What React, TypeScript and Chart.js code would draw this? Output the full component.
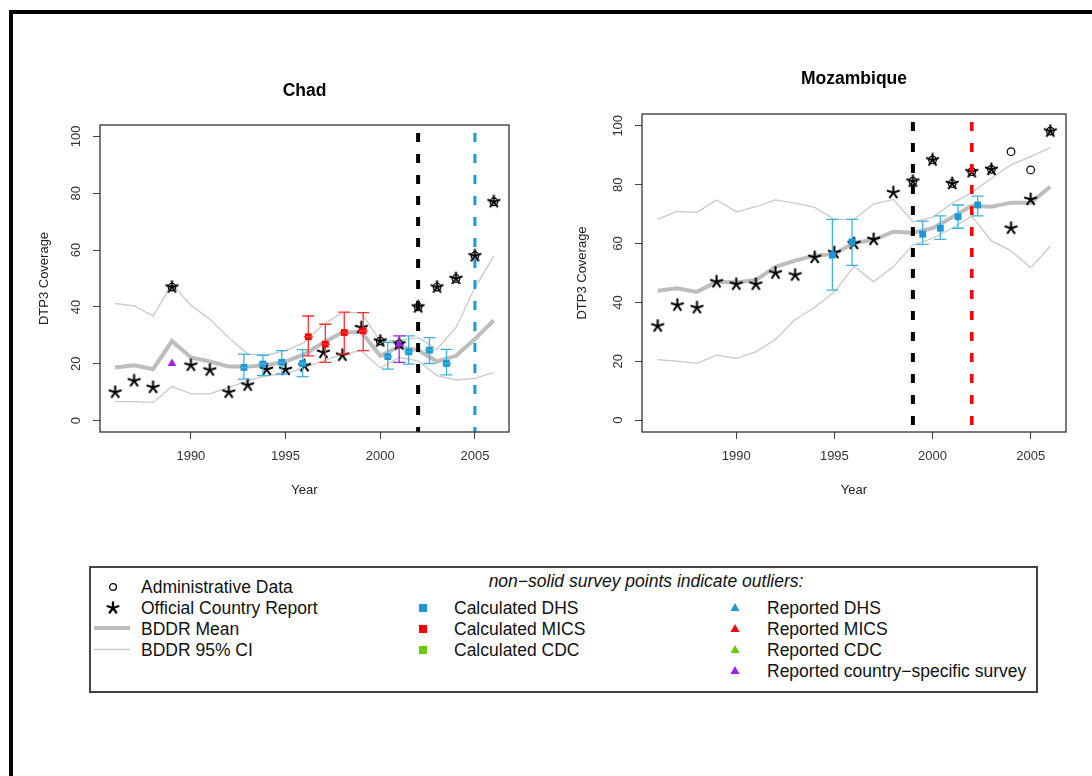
import React, { useEffect, useRef } from 'react';
import { Chart, registerables } from 'chart.js';
Chart.register(...registerables);

// ---------- data ----------
const years = [1986, 1987, 1988, 1989, 1990, 1991, 1992, 1993, 1994, 1995, 1996, 1997, 1998, 1999, 2000, 2001, 2002, 2003, 2004, 2005, 2006];
const xTickValues = [1990, 1995, 2000, 2005];
const yTickValues = [0, 20, 40, 60, 80, 100];

// Chad
const chadOfficial = [10, 14, 11.7, 47, 19.5, 17.8, 10, 12.5, 18, 18, 19.3, 24, 23, 32.7, 28, 27, 40, 47, 50, 58, 77];
const chadAdminYears = [1989, 2000, 2001, 2002, 2003, 2004, 2005, 2006];
const chadAdmin = [47, 28, 27, 40, 47, 50, 58, 77];
const chadMean = [18.7, 19.5, 18.1, 28, 22.2, 20.8, 19, 19, 19.5, 20.8, 23.4, 27.5, 31, 31.2, 22.8, 26, 24.8, 20.8, 22.8, 28.7, 35.3];
const chadUpper = [41.2, 40.4, 36.8, 48, 40.6, 35.7, 29.2, 23.4, 23, 24.6, 27.5, 33.9, 38, 38, 28, 28.2, 29.2, 25.1, 32.7, 46.8, 57.9];
const chadLower = [6.7, 6.7, 6.4, 12, 9.4, 9.4, 11.7, 14, 15.8, 16.4, 18.7, 21, 23.4, 24.6, 18.5, 22.2, 21, 15.8, 14.3, 14.9, 17];
const chadDhsYears = [1992.8, 1993.8, 1994.8, 1995.9, 2000.4, 2001.5, 2002.6, 2003.5];
const chadDhs = [18.7, 19.9, 20.5, 20.1, 22.5, 24.2, 24.8, 20.1];
const chadDhsHigh = [23.4, 23, 24.6, 25, 27.5, 29.8, 29.2, 25.1];
const chadDhsLow = [14.6, 15.8, 16.4, 15.5, 18.1, 19.9, 20.1, 16.1];
const chadMicsYears = [1996.2, 1997.1, 1998.1, 1999.1];
const chadMics = [29.5, 26.9, 31, 31.6];
const chadMicsHigh = [36.8, 33.9, 38.2, 38];
const chadMicsLow = [22.8, 20.5, 23.4, 24.6];
const chadCountryYears = [1989, 2001];
const chadCountry = [20.1, 26.9];
const chadCountryHigh = [20.1, 29.8];
const chadCountryLow = [20.1, 20.5];
const chadVlineYears = [2002, 2005];
const chadVlineColors = ['#000000', '#1a9ad6'];
const chadVlineWidths = [4, 3];

// Mozambique
const mozOfficial = [32, 39.1, 38.2, 47, 46.2, 46.2, 50, 49.3, 55.3, 56.9, 60, 61.4, 77.3, 81.2, 88.4, 80.4, 84.4, 85.2, 65.2, 75, 98.2];
const mozAdminYears = [1999, 2000, 2001, 2002, 2003, 2004, 2005, 2006];
const mozAdmin = [81.2, 88.4, 80.4, 84.4, 85.2, 91.2, 85, 98.2];
const mozMean = [44, 44.8, 43.6, 47, 46.8, 47.6, 52.1, 54.2, 55.9, 56.4, 60.3, 61.2, 64, 63.7, 65.2, 68.9, 72.8, 72.5, 73.9, 73.9, 79.3];
const mozUpper = [68.3, 70.9, 70.6, 74.8, 70.8, 72.5, 74.8, 73.7, 72.3, 68.2, 68.2, 73.4, 75, 67.4, 68.9, 73.7, 77.3, 82.2, 86.7, 89.5, 92.6];
const mozLower = [20.6, 20.1, 19.3, 22.1, 21, 23.2, 27.4, 34.2, 38.3, 43.6, 52.3, 47, 52.1, 59.5, 61.8, 65.2, 69.3, 60.9, 57.5, 51.8, 59.1];
const mozDhsYears = [1994.9, 1995.9, 1999.5, 2000.4, 2001.3, 2002.3];
const mozDhs = [56.1, 60.6, 63.2, 65.2, 69.1, 73.1];
const mozDhsHigh = [68.2, 68.2, 67.6, 69.4, 73.1, 76.1];
const mozDhsLow = [44.2, 52.6, 59.7, 61.4, 65.2, 69.4];
const mozVlineYears = [1999, 2002];
const mozVlineColors = ['#000000', '#ff0000'];
const mozVlineWidths = [4, 3.5];

// ---------- styles ----------
const FONT = "'Liberation Sans', Arial, Helvetica, sans-serif";
const DHS_COLOR = '#1a98d5';
const DHS_BAR = '#3db0e2';
const MICS_COLOR = '#ff0000';
const MICS_BAR = '#ff3030';
const CDC_COLOR = '#66cc00';
const PURPLE = '#a020f0';
const MEAN_COLOR = '#bdbdbd';
const CI_COLOR = '#c9c9c9';

function makeStar(): HTMLCanvasElement {
  const size = 15;
  const c = document.createElement('canvas');
  c.width = size;
  c.height = size;
  const g = c.getContext('2d')!;
  g.strokeStyle = '#000';
  g.lineWidth = 2.1;
  g.lineCap = 'round';
  const cx = size / 2, cy = size / 2, r = size / 2 - 1.6;
  for (let k = 0; k < 5; k++) {
    const a = -Math.PI / 2 + (k * 2 * Math.PI) / 5;
    g.beginPath();
    g.moveTo(cx, cy);
    g.lineTo(cx + r * Math.cos(a), cy + r * Math.sin(a));
    g.stroke();
  }
  return c;
}

const errorBarPlugin = {
  id: 'errorBars',
  beforeDatasetDraw(chart: any, args: any) {
    const ds = chart.data.datasets[args.index];
    if (!ds.errorColor) return;
    const { ctx, scales } = chart;
    const x = scales.x, y = scales.y;
    ctx.save();
    ctx.strokeStyle = ds.errorColor;
    ctx.lineWidth = 1.3;
    ds.data.forEach((p: any) => {
      if (p.hi === p.lo) return;
      const px = x.getPixelForValue(p.x);
      const hi = y.getPixelForValue(p.hi);
      const lo = y.getPixelForValue(p.lo);
      ctx.beginPath();
      ctx.moveTo(px, hi);
      ctx.lineTo(px, lo);
      ctx.moveTo(px - 6, hi);
      ctx.lineTo(px + 6, hi);
      ctx.moveTo(px - 6, lo);
      ctx.lineTo(px + 6, lo);
      ctx.stroke();
    });
    ctx.restore();
  },
  afterDatasetDraw(chart: any, args: any) {
    const ds = chart.data.datasets[args.index];
    if (!ds.stripe) return;
    const { ctx, scales } = chart;
    ctx.save();
    ctx.strokeStyle = ds.errorColor;
    ctx.lineWidth = 1.6;
    ds.data.forEach((p: any) => {
      const px = scales.x.getPixelForValue(p.x);
      const py = scales.y.getPixelForValue(p.y);
      ctx.beginPath();
      ctx.moveTo(px - 4.5, py);
      ctx.lineTo(px + 4.5, py);
      ctx.stroke();
    });
    ctx.restore();
  },
};

const vlinePlugin = {
  id: 'vlines',
  afterDatasetsDraw(chart: any, _args: any, opts: any) {
    const { ctx, chartArea, scales } = chart;
    ctx.save();
    ctx.beginPath();
    ctx.rect(chartArea.left, chartArea.top, chartArea.right - chartArea.left, chartArea.bottom - chartArea.top);
    ctx.clip();
    (opts.lines || []).forEach((l: any) => {
      const px = scales.x.getPixelForValue(l.x);
      ctx.strokeStyle = l.color;
      ctx.lineWidth = l.width;
      ctx.setLineDash([9, 12]);
      ctx.lineDashOffset = 13;
      ctx.beginPath();
      ctx.moveTo(px, chartArea.top);
      ctx.lineTo(px, chartArea.bottom);
      ctx.stroke();
    });
    ctx.restore();
  },
};

const boxPlugin = {
  id: 'plotBox',
  afterDraw(chart: any) {
    const { ctx, chartArea } = chart;
    ctx.save();
    ctx.strokeStyle = '#333';
    ctx.lineWidth = 1.3;
    ctx.strokeRect(chartArea.left, chartArea.top, chartArea.right - chartArea.left, chartArea.bottom - chartArea.top);
    ctx.restore();
  },
};

function pts(xs: number[], ys: number[], hi?: number[], lo?: number[]) {
  return xs.map((x, i) => ({ x, y: ys[i], hi: hi ? hi[i] : ys[i], lo: lo ? lo[i] : ys[i] }));
}

function buildConfig(p: any) {
  const star = makeStar();
  const line = (vals: number[], color: string, w: number, order: number) => ({
    type: 'line',
    data: pts(years, vals),
    borderColor: color,
    borderWidth: w,
    pointRadius: 0,
    pointHoverRadius: 0,
    fill: false,
    tension: 0,
    order,
  });
  const datasets: any[] = [
    line(p.upper, CI_COLOR, 1.3, 10),
    line(p.lower, CI_COLOR, 1.3, 10),
    line(p.mean, MEAN_COLOR, 4, 9),
    {
      data: pts(p.adminYears, p.admin),
      pointStyle: 'circle',
      pointRadius: 3.8,
      borderColor: '#000',
      backgroundColor: 'rgba(0,0,0,0)',
      borderWidth: 1.2,
      order: 5,
    },
    { data: pts(years, p.official), pointStyle: star, pointRadius: 6, order: 4 },
    {
      data: pts(p.dhsYears, p.dhs, p.dhsHigh, p.dhsLow),
      pointStyle: 'rect',
      pointRadius: 4.8,
      backgroundColor: DHS_COLOR,
      borderColor: DHS_COLOR,
      borderWidth: 0,
      errorColor: DHS_BAR,
      stripe: p.stripe,
      order: 3,
    },
  ];
  if (p.mics) {
    datasets.push({
      data: pts(p.micsYears, p.mics, p.micsHigh, p.micsLow),
      pointStyle: 'rect',
      pointRadius: 4.8,
      backgroundColor: MICS_COLOR,
      borderColor: MICS_COLOR,
      borderWidth: 0,
      errorColor: MICS_BAR,
      stripe: p.stripe,
      order: 2,
    });
  }
  if (p.country) {
    datasets.push({
      data: pts(p.countryYears, p.country, p.countryHigh, p.countryLow),
      pointStyle: 'triangle',
      pointRadius: 5,
      backgroundColor: PURPLE,
      borderColor: PURPLE,
      borderWidth: 0,
      errorColor: PURPLE,
      order: 1,
    });
  }
  return {
    type: 'scatter',
    data: { datasets },
    plugins: [errorBarPlugin, vlinePlugin, boxPlugin],
    options: {
      animation: false,
      responsive: false,
      events: [],
      layout: { padding: p.layoutPadding },
      plugins: {
        legend: { display: false },
        tooltip: { enabled: false },
        title: {
          display: true,
          text: p.title,
          fullSize: false,
          color: '#000',
          font: { family: FONT, size: 17.5, weight: 'bold' },
          padding: p.titlePadding,
        },
        vlines: {
          lines: p.vYears.map((x: number, i: number) => ({ x, color: p.vColors[i], width: p.vWidths[i] })),
        },
      },
      scales: {
        x: {
          type: 'linear',
          min: 1985.2,
          max: 2006.8,
          afterBuildTicks: (s: any) => { s.ticks = xTickValues.map((v) => ({ value: v })); },
          afterFit: (s: any) => { s.height = 66; },
          grid: { display: true, drawOnChartArea: false, drawTicks: true, tickLength: 7, color: '#444', lineWidth: 1 },
          border: { display: false },
          ticks: {
            autoSkip: false,
            maxRotation: 0,
            minRotation: 0,
            padding: 10,
            color: '#333',
            font: { family: FONT, size: 13 },
            callback: (v: any) => String(v),
          },
          title: { display: true, text: 'Year', color: '#222', font: { family: FONT, size: 13 }, padding: { top: 0, bottom: 0 } },
        },
        y: {
          type: 'linear',
          min: -4,
          max: 104,
          afterBuildTicks: (s: any) => { s.ticks = yTickValues.map((v) => ({ value: v })); },
          afterFit: (s: any) => { s.width = p.yWidth; },
          grid: { display: true, drawOnChartArea: false, drawTicks: true, tickLength: 7, color: '#444', lineWidth: 1 },
          border: { display: false },
          ticks: {
            autoSkip: false,
            minRotation: 90,
            maxRotation: 90,
            crossAlign: 'center',
            padding: 6,
            color: '#333',
            font: { family: FONT, size: 13 },
            callback: (v: any) => String(v),
          },
          title: { display: true, text: 'DTP3 Coverage', color: '#222', font: { family: FONT, size: 13 }, padding: { top: p.yTitlePad, bottom: 0 } },
        },
      },
    },
  };
}

const chadPanel = {
  title: 'Chad',
  official: chadOfficial,
  adminYears: chadAdminYears,
  admin: chadAdmin,
  mean: chadMean,
  upper: chadUpper,
  lower: chadLower,
  dhsYears: chadDhsYears,
  dhs: chadDhs,
  dhsHigh: chadDhsHigh,
  dhsLow: chadDhsLow,
  micsYears: chadMicsYears,
  mics: chadMics,
  micsHigh: chadMicsHigh,
  micsLow: chadMicsLow,
  countryYears: chadCountryYears,
  country: chadCountry,
  countryHigh: chadCountryHigh,
  countryLow: chadCountryLow,
  vYears: chadVlineYears,
  vColors: chadVlineColors,
  vWidths: chadVlineWidths,
  stripe: true,
  layoutPadding: { left: 0, right: 21, top: 0, bottom: 12 },
  titlePadding: { top: 30.5, bottom: 23.5 },
  yWidth: 70,
  yTitlePad: 7,
};

const mozPanel = {
  title: 'Mozambique',
  official: mozOfficial,
  adminYears: mozAdminYears,
  admin: mozAdmin,
  mean: mozMean,
  upper: mozUpper,
  lower: mozLower,
  dhsYears: mozDhsYears,
  dhs: mozDhs,
  dhsHigh: mozDhsHigh,
  dhsLow: mozDhsLow,
  vYears: mozVlineYears,
  vColors: mozVlineColors,
  vWidths: mozVlineWidths,
  stripe: false,
  layoutPadding: { left: 0, right: 14, top: 0, bottom: 12 },
  titlePadding: { top: 29, bottom: 24 },
  yWidth: 82,
  yTitlePad: 15,
};

function Panel({ spec, left, top, width, height }: any) {
  const ref = useRef<HTMLCanvasElement>(null);
  useEffect(() => {
    const chart = new Chart(ref.current as HTMLCanvasElement, buildConfig(spec) as any);
    return () => chart.destroy();
  }, []);
  return (
    <canvas
      ref={ref}
      width={width}
      height={height}
      style={{ position: 'absolute', left, top, width, height }}
    />
  );
}

// ---------- legend ----------
function StarIcon() {
  const arms = [0, 1, 2, 3, 4].map((k) => {
    const a = -Math.PI / 2 + (k * 2 * Math.PI) / 5;
    return <line key={k} x1={7} y1={7} x2={7 + 5.6 * Math.cos(a)} y2={7 + 5.6 * Math.sin(a)} stroke="#000" strokeWidth={2.3} strokeLinecap="round" />;
  });
  return <svg width={14} height={14}>{arms}</svg>;
}
function Square({ color }: any) {
  return <svg width={9} height={9}><rect x={0.5} y={0.5} width={8} height={8} fill={color} /></svg>;
}
function Tri({ color }: any) {
  return <svg width={10} height={9}><polygon points="5,0.5 9.5,8.5 0.5,8.5" fill={color} /></svg>;
}

const legendTextStyle: React.CSSProperties = {
  position: 'absolute',
  height: 20,
  lineHeight: '20px',
  fontSize: 17.5,
  color: '#111',
  whiteSpace: 'nowrap',
};

function Sym({ x, y, children }: any) {
  return (
    <div style={{ position: 'absolute', left: x, top: y, transform: 'translate(-50%, -50%)', lineHeight: 0 }}>{children}</div>
  );
}
function Txt({ x, y, children }: any) {
  return (
    <div style={{ ...legendTextStyle, left: x, top: y - 10 }}>{children}</div>
  );
}

function Legend() {
  return (
    <div>
      <div style={{ position: 'absolute', left: 89, top: 566, width: 949, height: 127, border: '2px solid #444', boxSizing: 'border-box' }} />
      <div style={{ ...legendTextStyle, left: 346, width: 600, top: 571, textAlign: 'center', fontStyle: 'italic' }}>
        non−solid survey points indicate outliers:
      </div>
      <Sym x={113} y={587}><svg width={9} height={9}><circle cx={4.5} cy={4.5} r={3.4} fill="none" stroke="#000" strokeWidth={1.3} /></svg></Sym>
      <Txt x={141} y={587}>Administrative Data</Txt>
      <Sym x={113} y={608}><StarIcon /></Sym>
      <Txt x={141} y={608}>Official Country Report</Txt>
      <Sym x={112} y={628}><svg width={36} height={6}><line x1={0} y1={3} x2={36} y2={3} stroke={MEAN_COLOR} strokeWidth={4} /></svg></Sym>
      <Txt x={141} y={629}>BDDR Mean</Txt>
      <Sym x={112} y={649}><svg width={36} height={4}><line x1={0} y1={2} x2={36} y2={2} stroke={CI_COLOR} strokeWidth={1.3} /></svg></Sym>
      <Txt x={141} y={650}>BDDR 95% CI</Txt>

      <Sym x={423} y={608}><Square color={DHS_COLOR} /></Sym>
      <Txt x={454} y={608}>Calculated DHS</Txt>
      <Sym x={423} y={629}><Square color={MICS_COLOR} /></Sym>
      <Txt x={454} y={629}>Calculated MICS</Txt>
      <Sym x={423} y={650}><Square color={CDC_COLOR} /></Sym>
      <Txt x={454} y={650}>Calculated CDC</Txt>

      <Sym x={735} y={607}><Tri color={DHS_COLOR} /></Sym>
      <Txt x={767} y={608}>Reported DHS</Txt>
      <Sym x={735} y={628}><Tri color={MICS_COLOR} /></Sym>
      <Txt x={767} y={629}>Reported MICS</Txt>
      <Sym x={735} y={649}><Tri color={CDC_COLOR} /></Sym>
      <Txt x={767} y={650}>Reported CDC</Txt>
      <Sym x={735} y={670}><Tri color={PURPLE} /></Sym>
      <Txt x={767} y={671}>Reported country−specific survey</Txt>
    </div>
  );
}

export default function App() {
  return (
    <div
      style={{
        position: 'fixed',
        left: 0,
        top: 0,
        width: 1092,
        height: 776,
        overflow: 'hidden',
        background: '#fff',
        fontFamily: FONT,
      }}
    >
      <div style={{ position: 'absolute', left: 9, top: 10, width: 1200, height: 900, border: '4px solid #000', boxSizing: 'border-box' }} />
      <Panel spec={chadPanel} left={30} top={50} width={500} height={460} />
      <Panel spec={mozPanel} left={560} top={40} width={520} height={470} />
      <Legend />
    </div>
  );
}
